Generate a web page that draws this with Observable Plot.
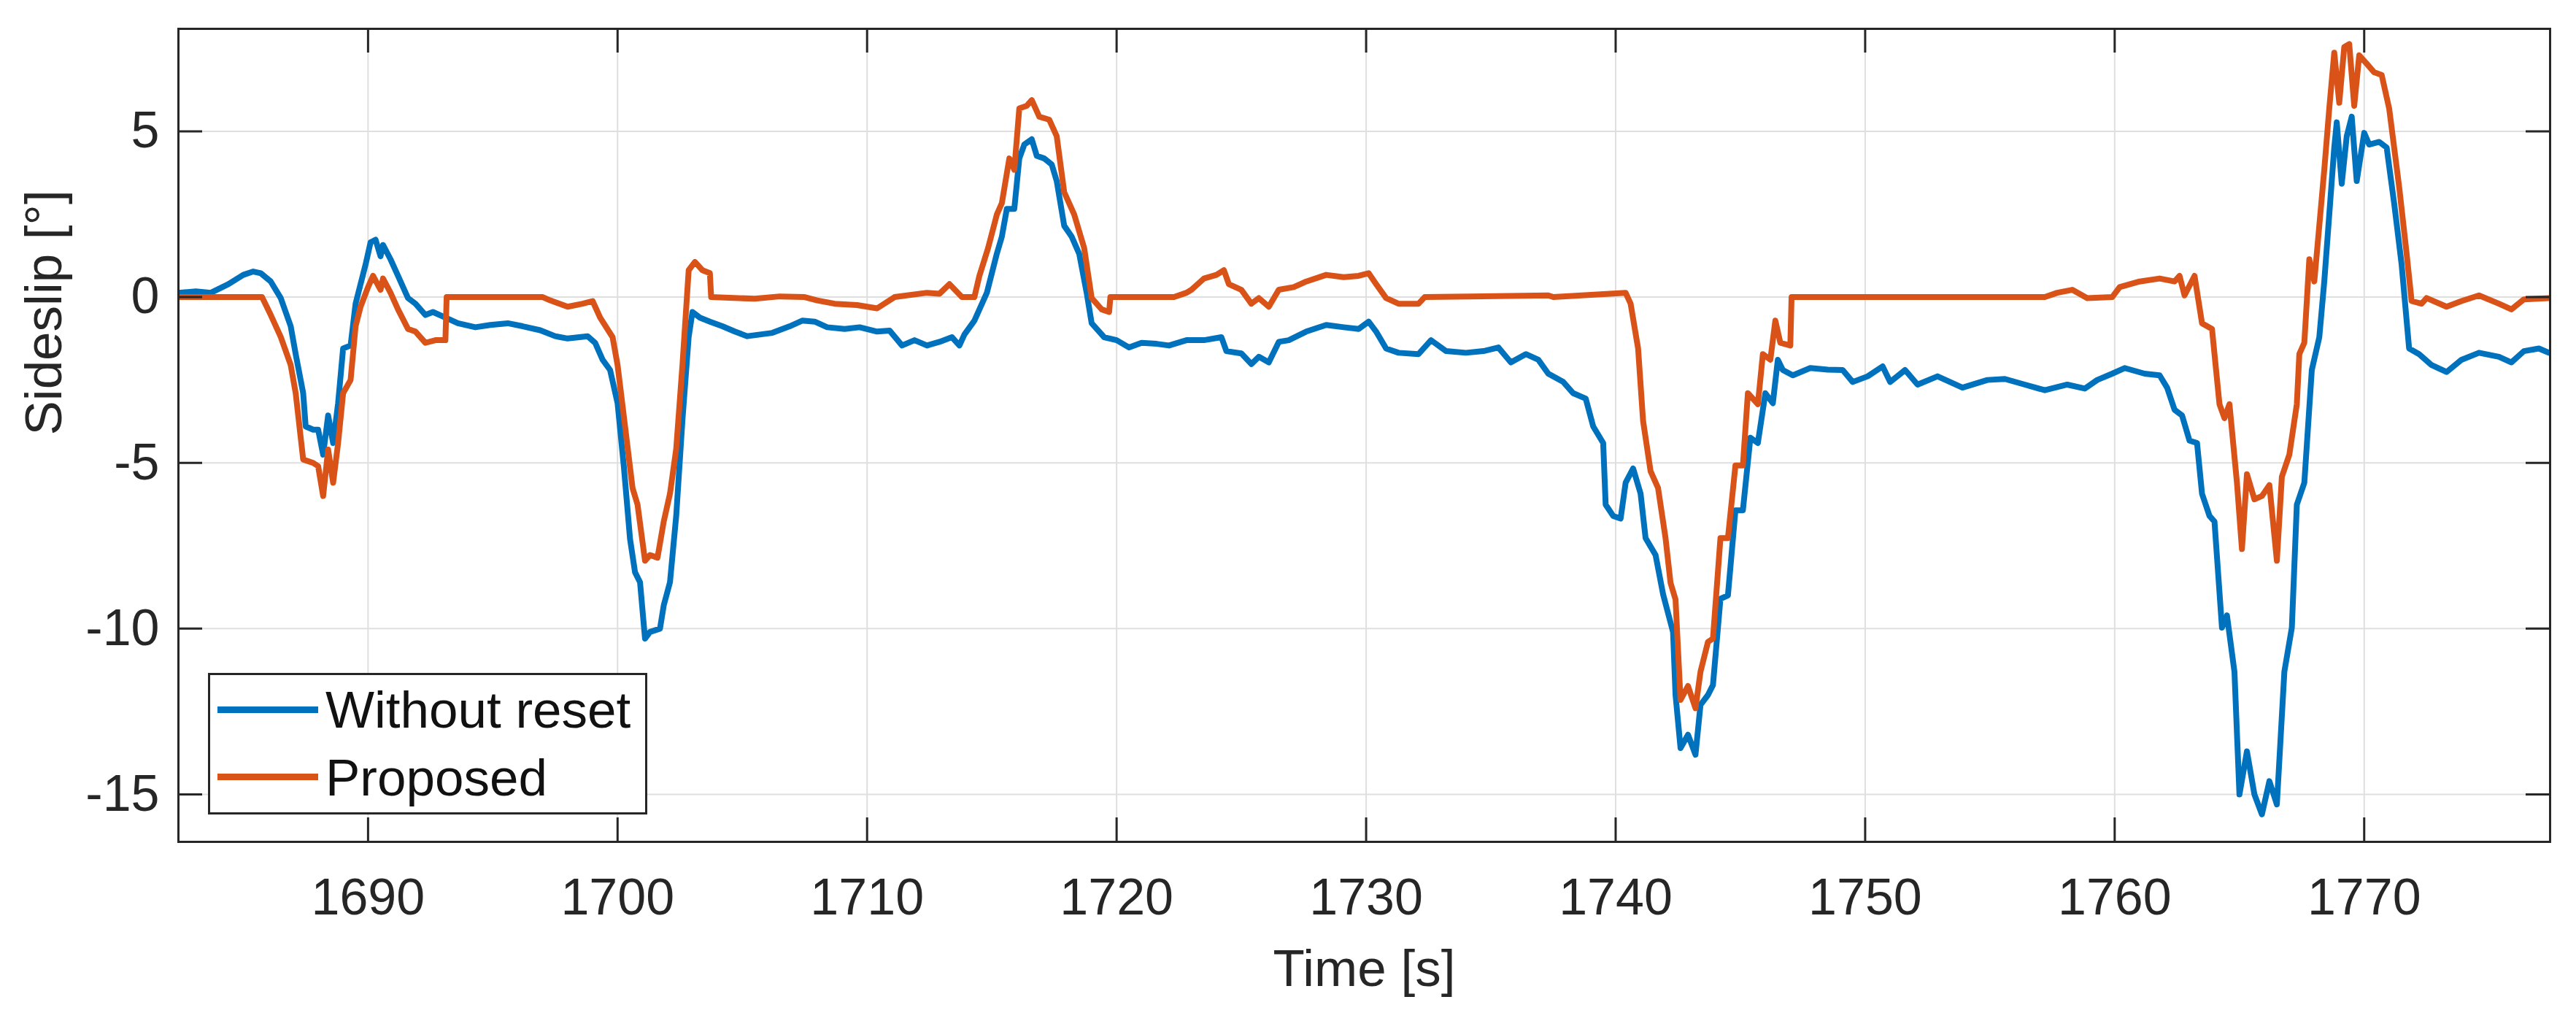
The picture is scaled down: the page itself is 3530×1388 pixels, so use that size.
<!DOCTYPE html>
<html>
<head>
<meta charset="utf-8">
<script src="https://cdn.jsdelivr.net/npm/d3@7"></script>
<script src="https://cdn.jsdelivr.net/npm/@observablehq/plot@0.6"></script>
<style>
  html, body { margin: 0; padding: 0; background: #fff; }
  #wrap { position: relative; width: 3530px; height: 1388px; font-family: "Liberation Sans", Arial, sans-serif; }
  #legend { position: absolute; left: 285px; top: 922px; width: 602px; height: 194px; box-sizing: border-box;
            border: 3px solid #262626; background: #fff; }
  .row { position: absolute; left: 0; width: 100%; height: 0; }
  .swatch { position: absolute; left: 10px; width: 138px; height: 9px; margin-top: -4.5px; }
  .lab { position: absolute; left: 158px; font-size: 71px; line-height: 1; color: #111; transform: translateY(-50%); white-space: nowrap; }
</style>
</head>
<body>
<div id="wrap"></div>
<script>
// ---- data ----
const seriesNames = ["Without reset", "Proposed"];
const seriesColors = ["#0072BD", "#D95319"];
const xTicks = [1690, 1700, 1710, 1720, 1730, 1740, 1750, 1760, 1770];
const yTicks = [-15, -10, -5, 0, 5];
const xDomain = [1682.4, 1777.45];
const yDomain = [-16.43, 8.09];

const timeWithoutReset = [
  1682.4,1683.1,1683.7,1684.4,1685.0,1685.4,1685.7,1686.1,1686.5,1686.9,1687.1,1687.4,1687.5,1687.8,1688.0,1688.2,1688.4,1688.6,1688.8,1689.0,
  1689.3,1689.5,1689.7,1689.9,1690.1,1690.3,1690.5,1690.6,1690.9,1691.2,1691.6,1691.9,1692.3,1692.6,1693.1,1693.6,1694.3,1694.9,1695.6,1696.2,
  1696.9,1697.5,1698.0,1698.8,1699.1,1699.4,1699.7,1700.0,1700.25,1700.5,1700.7,1700.9,1701.1,1701.3,1701.7,1701.85,1702.1,1702.35,1702.6,1702.85,
  1703.0,1703.3,1703.7,1704.2,1704.7,1705.2,1705.7,1706.2,1706.9,1707.4,1707.9,1708.4,1709.1,1709.7,1710.4,1710.9,1711.4,1711.9,1712.4,1712.9,
  1713.4,1713.7,1713.9,1714.3,1714.8,1715.2,1715.4,1715.6,1715.9,1716.1,1716.3,1716.6,1716.8,1717.1,1717.4,1717.6,1717.9,1718.2,1718.5,1718.8,
  1719.0,1719.5,1720.0,1720.5,1721.0,1721.6,1722.1,1722.8,1723.5,1724.2,1724.4,1725.0,1725.4,1725.7,1726.1,1726.5,1726.9,1727.6,1728.4,1729.1,
  1729.7,1730.1,1730.4,1730.8,1731.3,1732.1,1732.6,1733.2,1734.0,1734.7,1735.3,1735.8,1736.4,1736.9,1737.3,1737.9,1738.3,1738.8,1739.1,1739.5,
  1739.6,1739.9,1740.2,1740.4,1740.7,1741.0,1741.2,1741.6,1741.9,1742.3,1742.4,1742.6,1742.9,1743.2,1743.4,1743.7,1743.9,1744.2,1744.5,1744.8,
  1745.1,1745.4,1745.7,1746.0,1746.3,1746.5,1746.7,1747.1,1747.8,1748.5,1749.1,1749.5,1750.1,1750.7,1751.0,1751.6,1752.1,1752.9,1753.9,1754.9,
  1755.6,1756.4,1757.2,1758.1,1758.8,1759.3,1759.9,1760.4,1761.2,1761.8,1762.1,1762.4,1762.7,1763.0,1763.3,1763.5,1763.8,1764.0,1764.3,1764.5,
  1764.8,1765.0,1765.3,1765.6,1765.9,1766.2,1766.5,1766.8,1767.1,1767.3,1767.6,1767.9,1768.2,1768.4,1768.6,1768.8,1768.9,1769.1,1769.3,1769.5,
  1769.7,1770.0,1770.2,1770.6,1770.9,1771.2,1771.5,1771.8,1772.2,1772.7,1773.3,1773.9,1774.6,1775.4,1775.9,1776.4,1777.0,1777.4
];
const withoutReset = [
  0.13,0.17,0.13,0.39,0.67,0.77,0.72,0.47,-0.03,-0.88,-1.72,-2.9,-3.9,-4.0,-4.0,-4.75,-3.57,-4.4,-3.2,-1.55,
  -1.46,-0.2,0.39,0.98,1.65,1.73,1.23,1.57,1.14,0.64,-0.03,-0.2,-0.54,-0.45,-0.62,-0.79,-0.91,-0.84,-0.79,-0.88,
  -1.0,-1.18,-1.25,-1.18,-1.38,-1.89,-2.2,-3.2,-5.1,-7.3,-8.3,-8.6,-10.3,-10.1,-10.0,-9.3,-8.6,-6.6,-3.7,-1.2,
  -0.45,-0.62,-0.74,-0.88,-1.04,-1.18,-1.13,-1.08,-0.88,-0.71,-0.74,-0.91,-0.96,-0.91,-1.04,-1.01,-1.46,-1.3,-1.46,-1.35,
  -1.21,-1.46,-1.13,-0.71,0.13,1.31,1.82,2.66,2.66,4.18,4.6,4.76,4.26,4.18,4.0,3.5,2.15,1.82,1.31,0.13,
  -0.79,-1.21,-1.3,-1.52,-1.38,-1.41,-1.46,-1.3,-1.3,-1.21,-1.63,-1.7,-2.02,-1.8,-1.97,-1.35,-1.3,-1.04,-0.84,-0.91,
  -0.96,-0.74,-1.04,-1.55,-1.68,-1.72,-1.3,-1.63,-1.68,-1.63,-1.52,-1.97,-1.72,-1.89,-2.31,-2.56,-2.9,-3.06,-3.9,-4.4,
  -6.26,-6.6,-6.68,-5.6,-5.17,-5.93,-7.27,-7.78,-8.96,-10.1,-12.0,-13.6,-13.2,-13.8,-12.3,-12.0,-11.7,-9.1,-9.0,-6.43,
  -6.43,-4.24,-4.4,-2.9,-3.2,-1.89,-2.2,-2.36,-2.14,-2.19,-2.2,-2.56,-2.39,-2.09,-2.56,-2.2,-2.64,-2.39,-2.73,-2.5,
  -2.47,-2.64,-2.81,-2.64,-2.76,-2.5,-2.31,-2.14,-2.31,-2.36,-2.73,-3.4,-3.57,-4.33,-4.4,-5.93,-6.6,-6.77,-9.97,-9.6,
  -11.3,-15.0,-13.7,-15.0,-15.6,-14.6,-15.3,-11.3,-9.97,-6.26,-5.6,-2.2,-1.21,0.47,2.49,4.51,5.27,3.42,4.85,5.44,
  3.5,4.95,4.6,4.68,4.51,2.83,0.98,-1.55,-1.72,-2.05,-2.26,-1.89,-1.68,-1.8,-1.97,-1.63,-1.55,-1.68
];

const timeProposed = [
  1682.4,1685.75,1686.1,1686.5,1686.9,1687.1,1687.4,1687.8,1688.0,1688.2,1688.4,1688.6,1688.8,1689.0,1689.3,1689.5,1689.7,1690.0,1690.2,1690.5,
  1690.6,1690.9,1691.2,1691.6,1691.9,1692.3,1692.7,1693.1,1693.15,1697.0,1697.3,1698.0,1698.6,1699.0,1699.3,1699.8,1700.0,1700.3,1700.6,1700.8,
  1701.1,1701.3,1701.6,1701.85,1702.1,1702.35,1702.6,1702.85,1703.1,1703.4,1703.7,1703.75,1705.5,1706.5,1707.5,1708.0,1708.7,1709.6,1710.4,1711.1,
  1712.4,1712.9,1713.3,1713.8,1714.3,1714.5,1714.85,1715.2,1715.4,1715.7,1715.9,1716.1,1716.4,1716.6,1716.9,1717.3,1717.6,1717.9,1718.3,1718.7,
  1719.0,1719.4,1719.7,1719.75,1722.3,1722.8,1723.0,1723.5,1724.0,1724.3,1724.5,1725.0,1725.4,1725.7,1726.1,1726.5,1727.1,1727.6,1728.4,1729.1,
  1729.7,1730.1,1730.4,1730.8,1731.3,1732.1,1732.35,1737.3,1737.5,1740.4,1740.6,1740.9,1741.1,1741.4,1741.7,1742.0,1742.2,1742.4,1742.6,1742.9,
  1743.2,1743.4,1743.7,1743.9,1744.2,1744.5,1744.8,1745.1,1745.3,1745.7,1745.9,1746.2,1746.4,1746.6,1747.0,1747.05,1757.2,1757.7,1758.3,1758.9,
  1759.9,1760.2,1761.0,1761.8,1762.4,1762.6,1762.8,1763.2,1763.5,1763.9,1764.2,1764.4,1764.6,1764.9,1765.1,1765.3,1765.6,1765.9,1766.2,1766.5,
  1766.7,1767.0,1767.3,1767.4,1767.6,1767.8,1768.0,1768.2,1768.4,1768.6,1768.8,1769.0,1769.2,1769.4,1769.6,1769.8,1770.1,1770.4,1770.7,1771.0,
  1771.4,1771.7,1771.9,1772.3,1772.5,1773.3,1773.9,1774.6,1775.4,1775.9,1776.4,1777.4
];
const proposed = [
  0,0,-0.54,-1.2,-2.05,-2.9,-4.9,-5.0,-5.1,-6.0,-4.6,-5.6,-4.4,-2.9,-2.5,-0.88,-0.29,0.3,0.64,0.22,
  0.56,0.13,-0.37,-0.96,-1.04,-1.38,-1.3,-1.3,0,0,-0.1,-0.29,-0.2,-0.12,-0.62,-1.21,-2.05,-3.9,-5.76,-6.26,
  -7.95,-7.78,-7.86,-6.77,-5.93,-4.58,-2.05,0.81,1.06,0.81,0.72,0,-0.05,0.02,0,-0.1,-0.2,-0.24,-0.34,0,
  0.13,0.1,0.39,0,0,0.64,1.48,2.49,2.83,4.18,3.84,5.69,5.77,5.94,5.44,5.35,4.85,3.16,2.49,1.48,
  -0.03,-0.37,-0.45,0,0,0.13,0.22,0.56,0.67,0.81,0.39,0.22,-0.2,-0.03,-0.29,0.22,0.3,0.47,0.67,0.6,
  0.64,0.72,0.39,-0.03,-0.2,-0.2,0,0.05,0,0.13,-0.2,-1.55,-3.74,-5.25,-5.76,-7.27,-8.62,-9.12,-12.15,-11.73,
  -12.4,-11.3,-10.4,-10.3,-7.27,-7.27,-5.08,-5.08,-2.9,-3.23,-1.72,-1.89,-0.71,-1.38,-1.46,0,0,0.13,0.22,-0.03,
  0,0.3,0.47,0.56,0.47,0.64,0.05,0.64,-0.79,-0.96,-3.23,-3.65,-3.23,-5.6,-7.6,-5.34,-6.1,-6.0,-5.67,-7.95,
  -5.42,-4.75,-3.23,-1.72,-1.38,1.14,0.47,2.15,3.84,5.69,7.37,5.86,7.54,7.63,5.77,7.29,7.04,6.78,6.7,5.69,
  3.33,1.31,-0.12,-0.2,-0.03,-0.29,-0.12,0.05,-0.2,-0.37,-0.07,-0.03
];

// ---- table built from the arrays ----
const rowsA = timeWithoutReset.map((t, i) => ({t, v: withoutReset[i]}));
const rowsB = timeProposed.map((t, i) => ({t, v: proposed[i]}));

const W = 3530, H = 1388, mL = 244, mR = 36, mT = 39, mB = 235;
const innerW = W - mL - mR, innerH = H - mT - mB;
const tickLen = 33;
const axisColor = "#262626";
const font = "Liberation Sans, Arial, sans-serif";

const chart = Plot.plot({
  width: W, height: H,
  marginLeft: mL, marginRight: mR, marginTop: mT, marginBottom: mB,
  style: {fontFamily: font, fontSize: "70px", color: axisColor, background: "#fff", overflow: "visible"},
  x: {domain: xDomain, label: null},
  y: {domain: yDomain, label: null},
  marks: [
    Plot.gridX(xTicks, {stroke: "#dfdfdf", strokeOpacity: 1, strokeWidth: 2}),
    Plot.gridY(yTicks, {stroke: "#dfdfdf", strokeOpacity: 1, strokeWidth: 2}),
    Plot.line(rowsA, {x: "t", y: "v", stroke: seriesColors[0], strokeWidth: 8, clip: true, strokeLinejoin: "round"}),
    Plot.line(rowsB, {x: "t", y: "v", stroke: seriesColors[1], strokeWidth: 8, clip: true, strokeLinejoin: "round"}),
    Plot.ruleX(xTicks, {x: d => d, insetTop: innerH - tickLen, stroke: axisColor, strokeWidth: 3}),
    Plot.ruleX(xTicks, {x: d => d, insetBottom: innerH - tickLen, stroke: axisColor, strokeWidth: 3}),
    Plot.ruleY(yTicks, {y: d => d, insetRight: innerW - tickLen, stroke: axisColor, strokeWidth: 3}),
    Plot.ruleY(yTicks, {y: d => d, insetLeft: innerW - tickLen, stroke: axisColor, strokeWidth: 3}),
    Plot.frame({stroke: axisColor, strokeWidth: 3}),
    Plot.axisX({ticks: xTicks, tickSize: 0, tickPadding: 50, tickFormat: d => String(d), label: null, fontSize: 70}),
    Plot.axisY({ticks: yTicks, tickSize: 0, tickPadding: 26, tickFormat: d => String(d), label: null, fontSize: 70}),
    Plot.text(["Time [s]"], {text: d => d, frameAnchor: "bottom", dy: 197, lineAnchor: "bottom", fontSize: 71, fill: axisColor}),
    Plot.text(["Sideslip [°]"], {text: d => d, frameAnchor: "left", dx: -161, rotate: -90, lineAnchor: "bottom", fontSize: 71, fill: axisColor})
  ]
});

const wrap = document.getElementById("wrap");
wrap.appendChild(chart);

// legend (HTML, placed over the plot as in the reference)
const legend = document.createElement("div");
legend.id = "legend";
const rowY = [47, 139.6];
seriesNames.forEach((name, i) => {
  const row = document.createElement("div");
  row.className = "row";
  row.style.top = rowY[i] + "px";
  const sw = document.createElement("div");
  sw.className = "swatch";
  sw.style.background = seriesColors[i];
  const lab = document.createElement("div");
  lab.className = "lab";
  lab.textContent = name;
  row.appendChild(sw);
  row.appendChild(lab);
  legend.appendChild(row);
});
wrap.appendChild(legend);
</script>
</body>
</html>
